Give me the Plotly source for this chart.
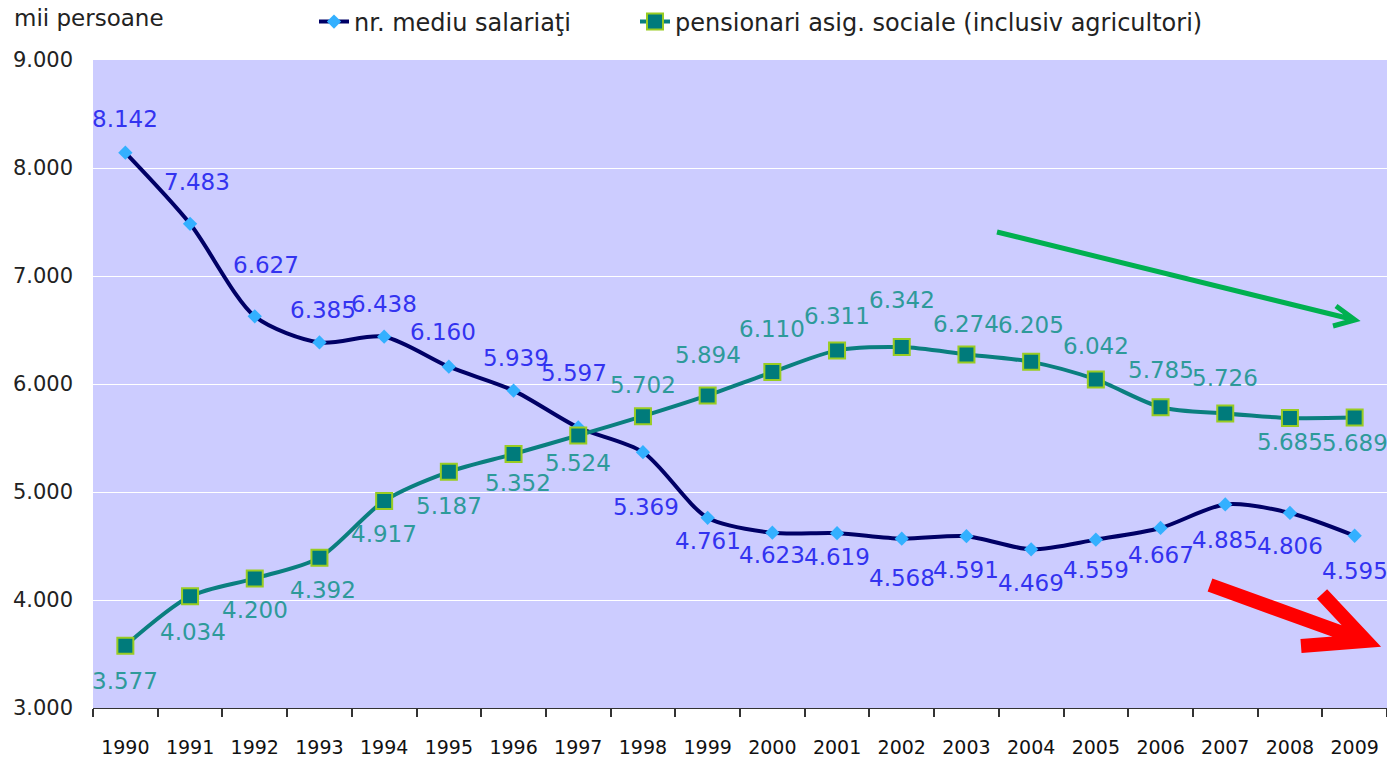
import plotly.graph_objects as go

years = [str(y) for y in range(1990, 2010)]
salariati = [8142, 7483, 6627, 6385, 6438, 6160, 5939, 5597, 5369, 4761,
             4623, 4619, 4568, 4591, 4469, 4559, 4667, 4885, 4806, 4595]
pensionari = [3577, 4034, 4200, 4392, 4917, 5187, 5352, 5524, 5702, 5894,
              6110, 6311, 6342, 6274, 6205, 6042, 5785, 5726, 5685, 5689]
y_ticks = [3000, 4000, 5000, 6000, 7000, 8000, 9000]

# label offsets in pixels (dx, dy with dy positive = down)
sal_off = [(0, -34), (7, -42), (11, -51), (4, -32), (0, -33), (-6, -35), (2, -33),
           (-4, -55), (3, 55), (0, 23), (0, 22), (0, 24), (0, 39), (0, 34),
           (0, 34), (0, 30), (0, 27), (0, 36), (0, 33), (0, 35)]
pen_off = [(0, 35), (3, 36), (0, 32), (4, 32), (0, 33), (0, 34), (4, 29), (0, 28),
           (0, -31), (0, -40), (0, -43), (0, -34), (0, -47), (0, -30), (0, -37),
           (0, -33), (0, -37), (0, -36), (0, 24), (0, 25)]

FONT = "DejaVu Sans"
W, H = 1387, 758
# plot area on screen: left 93, right 1387, top 60, bottom 708
PL, PR, PT, PB = 93, 1387, 60, 708
PW, PH = PR - PL, PB - PT

def px(x):
    return (x - PL) / PW

def py(y):
    return (PB - y) / PH

fig = go.Figure()
fig.add_trace(go.Scatter(
    x=years, y=salariati, name="nr. mediu salariaţi", mode="lines+markers",
    line=dict(color="#000066", width=4, shape="spline", smoothing=0.8),
    marker=dict(symbol="diamond", size=11, color="#33B0FF",
                line=dict(color="#33B0FF", width=0)),
    legend="legend",
))
fig.add_trace(go.Scatter(
    x=years, y=pensionari, name="pensionari asig. sociale (inclusiv agricultori)",
    mode="lines+markers",
    line=dict(color="#0A7F7F", width=4, shape="spline", smoothing=0.8),
    marker=dict(symbol="square", size=16, color="#007B7B",
                line=dict(color="#99CC22", width=2)),
    legend="legend2",
))

def fmt(v):
    return f"{v:,}".replace(",", ".")

for i, (v, (dx, dy)) in enumerate(zip(salariati, sal_off)):
    fig.add_annotation(x=i, y=v, text=fmt(v), showarrow=False, xshift=dx, yshift=-dy,
                       font=dict(family=FONT, size=23, color="#3333F0"))
for i, (v, (dx, dy)) in enumerate(zip(pensionari, pen_off)):
    fig.add_annotation(x=i, y=v, text=fmt(v), showarrow=False, xshift=dx, yshift=-dy,
                       font=dict(family=FONT, size=23, color="#2E9A9A"))

# unit label
fig.add_annotation(xref="paper", yref="paper", x=px(12), y=py(18),
                   xanchor="left", yanchor="middle", text="mii persoane", showarrow=False,
                   font=dict(family=FONT, size=23, color="#222222"))

# trend arrows (decorations, drawn as paths in paper space)
def P(x, y):
    return f"{px(x):.5f},{py(y):.5f}"

green = f"M{P(997,232)} L{P(1355,320)} M{P(1336,306)} L{P(1355,320)} L{P(1333,326)}"
red = f"M{P(1210,585)} L{P(1362,640)} M{P(1322,594)} L{P(1366,641)} L{P(1301,646)}"
fig.add_shape(type="path", xref="paper", yref="paper", path=green,
              line=dict(color="#00B050", width=5), layer="above")
fig.add_shape(type="path", xref="paper", yref="paper", path=red,
              line=dict(color="#FF0000", width=14), layer="above")

leg_common = dict(orientation="h", xanchor="left", yanchor="middle",
                  font=dict(family=FONT, size=24, color="#222222"),
                  bgcolor="rgba(0,0,0,0)")
fig.update_layout(
    width=W, height=H,
    margin=dict(l=PL, r=W - PR, t=PT, b=H - PB, autoexpand=False),
    paper_bgcolor="white", plot_bgcolor="#CCCCFF",
    separators=",.",
    font=dict(family=FONT, size=18, color="#222222"),
    showlegend=True,
    legend=dict(x=px(314), y=py(22), **leg_common),
    legend2=dict(x=px(635), y=py(22), **leg_common),
)
fig.update_xaxes(
    type="category", range=[-0.5, 19.5], tickson="boundaries", ticks="outside",
    ticklen=8, tickwidth=2, tickcolor="#333333", showline=True, linecolor="#333333",
    linewidth=1, showgrid=False, ticklabelstandoff=22, automargin=False,
    tickfont=dict(family=FONT, size=19, color="#111111"),
)
fig.update_yaxes(
    range=[3000, 9000], tickvals=y_ticks, tickformat=",d", showgrid=True,
    gridcolor="white", gridwidth=1, zeroline=False, showline=False,
    ticks="", ticklabelstandoff=19, automargin=False,
    tickfont=dict(family=FONT, size=21, color="#222222"),
)

fig.write_html("out.html", config={"displayModeBar": False},
               post_script="document.body.style.margin='0';document.body.style.overflow='hidden';")
